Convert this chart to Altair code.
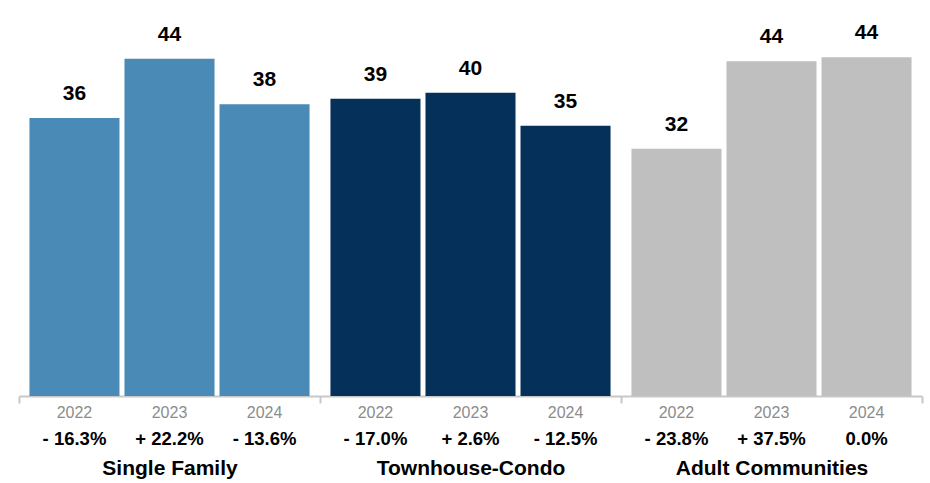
import altair as alt
import pandas as pd

groups = ["Single Family", "Townhouse-Condo", "Adult Communities"]
years = ["2022", "2023", "2024"]
# bar heights
values = [
    [36.2, 43.9, 38.0],
    [38.7, 39.5, 35.2],
    [32.2, 43.6, 44.1],
]
value_labels = [
    ["36", "44", "38"],
    ["39", "40", "35"],
    ["32", "44", "44"],
]
pct_labels = [
    ["- 16.3%", "+ 22.2%", "- 13.6%"],
    ["- 17.0%", "+ 2.6%", "- 12.5%"],
    ["- 23.8%", "+ 37.5%", "0.0%"],
]
colors = ["#498BB6", "#04305A", "#BFBFBF"]

rows = []
for gi, g in enumerate(groups):
    for yi, yr in enumerate(years):
        rows.append({
            "group": g,
            "year": yr,
            "value": values[gi][yi],
            "label": value_labels[gi][yi],
            "pct": pct_labels[gi][yi],
        })
df = pd.DataFrame(rows)

FONT = "Liberation Sans"
H = 384

x_enc = alt.X(
    "group:N",
    sort=groups,
    scale=alt.Scale(paddingInner=0, paddingOuter=0),
    axis=alt.Axis(
        title=None,
        domainColor="#C8C8C8",
        domainWidth=2,
        tickColor="#C8C8C8",
        tickWidth=2,
        tickSize=7,
        tickBand="extent",
        labelFont=FONT,
        labelFontSize=21,
        labelFontWeight="bold",
        labelColor="#000000",
        labelBaseline="middle",
        labelPadding=65,
        labelAngle=0,
        labelLimit=400,
    ),
)
xo_enc = alt.XOffset(
    "year:N",
    sort=years,
    scale=alt.Scale(paddingInner=0.0526, paddingOuter=0.11),
)
y_scale = alt.Scale(domain=[0, 50], nice=False, zero=True)

base = alt.Chart(df)

bars = base.mark_bar().encode(
    x=x_enc,
    xOffset=xo_enc,
    y=alt.Y("value:Q", scale=y_scale, axis=None),
    color=alt.Color("group:N", scale=alt.Scale(domain=groups, range=colors), legend=None),
)

top_labels = base.mark_text(
    font=FONT, fontSize=21, fontWeight="bold", color="#000000",
    baseline="middle", dy=-24,
).encode(
    x=alt.X("group:N", sort=groups),
    xOffset=alt.XOffset("year:N", sort=years),
    y=alt.Y("value:Q", scale=y_scale),
    text="label:N",
)

year_labels = base.mark_text(
    font=FONT, fontSize=16, color="#8C8C8C", baseline="middle",
).encode(
    x=alt.X("group:N", sort=groups),
    xOffset=alt.XOffset("year:N", sort=years),
    y=alt.value(H + 17),
    text="year:N",
)

pct_text = base.mark_text(
    font=FONT, fontSize=18.5, fontWeight="bold", color="#000000", baseline="middle",
).encode(
    x=alt.X("group:N", sort=groups),
    xOffset=alt.XOffset("year:N", sort=years),
    y=alt.value(H + 43),
    text="pct:N",
)

chart = alt.layer(bars, top_labels, year_labels, pct_text).properties(
    width=903,
    height=H,
    background="#FFFFFF",
    autosize=alt.AutoSizeParams(type="none"),
    padding={"left": 19, "top": 12, "right": 8, "bottom": 87},
).configure_view(strokeWidth=0, stroke="transparent")

chart.save("out.html", embed_options={"renderer": "svg", "actions": False})
